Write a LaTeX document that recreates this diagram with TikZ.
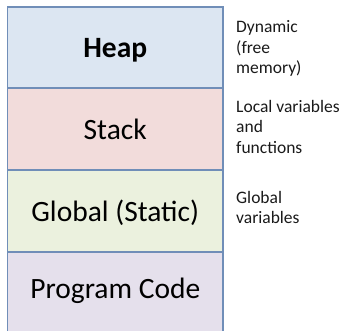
\documentclass[tikz,border=0pt]{standalone}
\usepackage{fontspec}
\setmainfont{Carlito}
\definecolor{heapfill}{HTML}{DCE6F2}
\definecolor{stackfill}{HTML}{F2DCDB}
\definecolor{globalfill}{HTML}{EBF1DE}
\definecolor{codefill}{HTML}{E5E0EC}
\definecolor{segline}{RGB}{112,142,184}
\definecolor{notetext}{HTML}{1A1A1A}
\tikzset{
  segment/.style={draw=segline, line width=1.5pt, rectangle,
    minimum width=215.5pt, inner sep=0pt,
    text height=20pt, text depth=0pt,
    font=\fontsize{29.5}{34}\selectfont},
  % multi-line notes: the base anchor sits on the last line's baseline
  note/.style={anchor=base west, align=left, inner sep=0pt,
    text=notetext, font=\fontsize{17.5}{20.5}\selectfont}
}
\begin{document}
\begin{tikzpicture}[x=1pt, y=1pt]
  \useasboundingbox (0,0) rectangle (342,-330);
  \fill[white] (0,0) rectangle (342,-330);
  \begin{scope}
    \clip (0,0) rectangle (342,-330);
    % memory segments, top to bottom
    \node[segment, fill=heapfill, minimum height=81pt, font=\fontsize{29.5}{34}\selectfont\bfseries] (heap) at (115.25,-47.5) {Heap};
    \node[segment, fill=stackfill, minimum height=82pt] (stack) at (115.25,-129) {Stack};
    \node[segment, fill=globalfill, minimum height=82pt] (global) at (115.25,-211) {Global (Static)};
    \node[segment, fill=codefill, minimum height=88pt, text depth=16pt] (code) at (115.25,-296) {Program Code};
  \end{scope}
  % descriptions beside the segments
  \node[note] (heapnote) at (236,-73.5) {Dynamic\\(free\\memory)};
  \node[note] (stacknote) at (236,-153) {Local variables\\and\\functions};
  \node[note] (globalnote) at (236,-223.5) {Global\\variables};
\end{tikzpicture}
\end{document}
